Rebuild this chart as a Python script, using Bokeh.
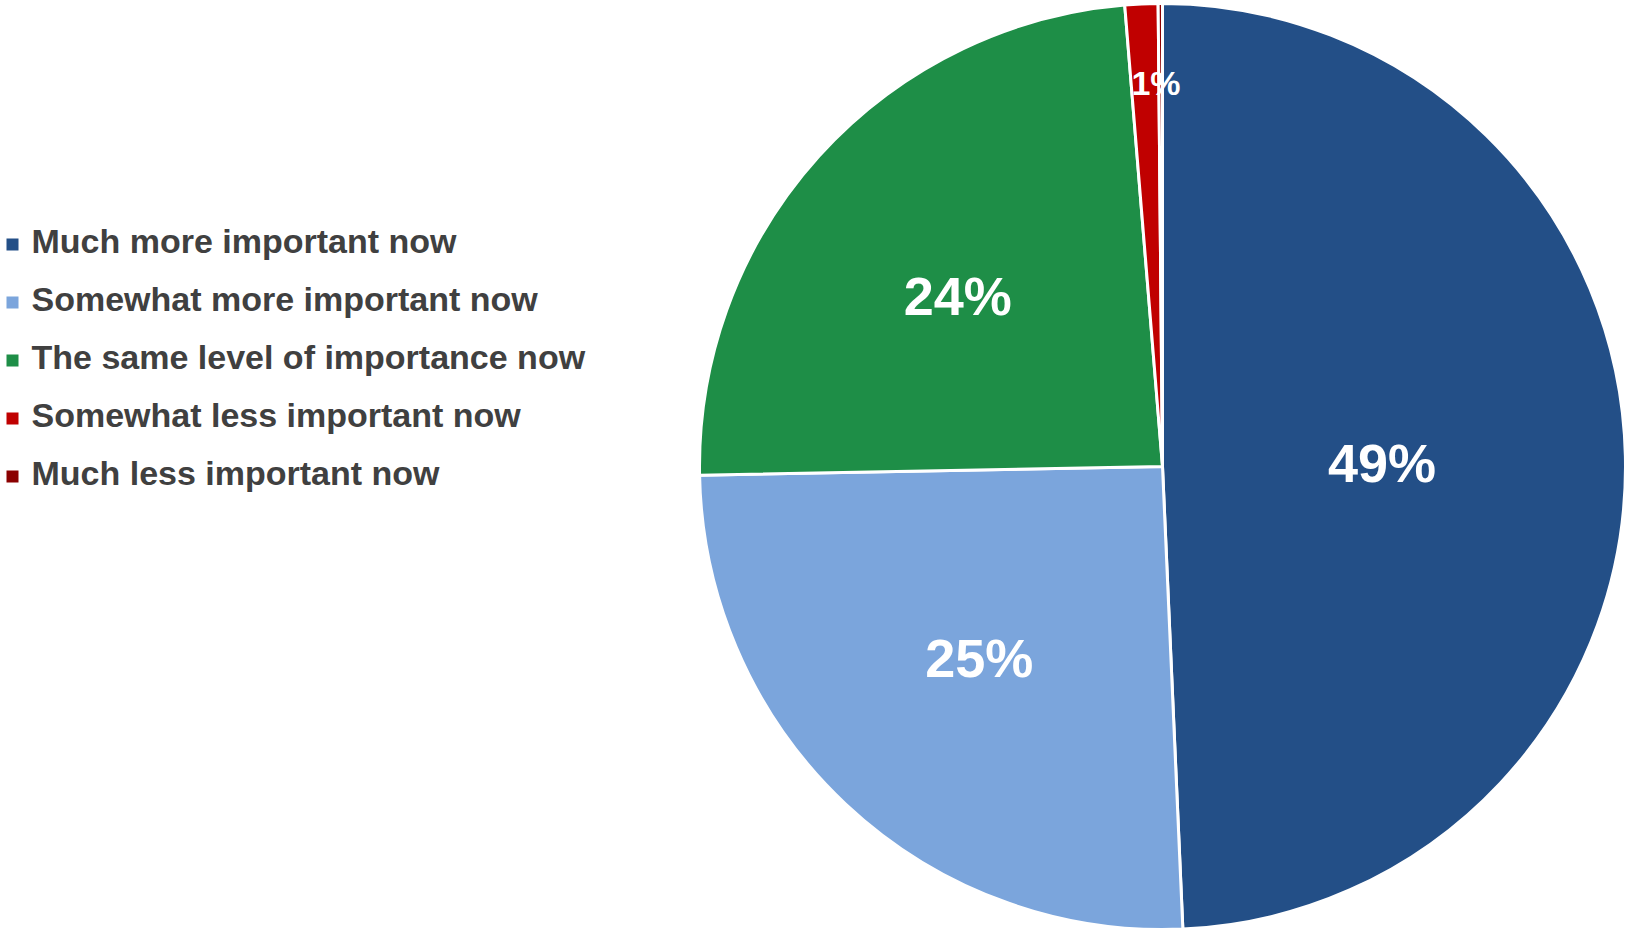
import numpy as np
from bokeh.plotting import figure
from bokeh.models import Range1d, ColumnDataSource
from bokeh.core.properties import value
from bokeh.embed import file_html
from bokeh.resources import INLINE

categories = ["Much more important now", "Somewhat more important now",
              "The same level of importance now", "Somewhat less important now",
              "Much less important now"]
values = [49.3, 25.4, 24.0, 1.15, 0.15]
labels = ["49%", "25%", "24%", "1%", ""]
colors = ["#234F87", "#7BA5DC", "#1E8E47", "#C00000", "#8B0000"]
label_radius = [0.47, 0.575, 0.567, 0.83, 0.9]
label_dx = [2, -1, -10, 11, 0]
label_dy = [1, -3, 6, 0, 0]

W, H = 1626, 931
p = figure(width=W, height=H, output_backend="svg", toolbar_location=None,
           x_range=Range1d(0, W), y_range=Range1d(0, H), min_border=0)
p.axis.visible = False
p.grid.visible = False
p.outline_line_color = None

def fx(px): return px
def fy(py): return H - py

cx, cy, R = fx(1162), fy(466), 463
vals = np.array(values)
frac = vals / vals.sum()
cum = np.concatenate([[0], np.cumsum(frac)]) * 2 * np.pi
start = np.pi / 2 - cum[:-1]
end = np.pi / 2 - cum[1:]
src = ColumnDataSource(dict(start=start, end=end, color=colors))
p.wedge(x=cx, y=cy, radius=R, start_angle="start", end_angle="end", direction="clock",
        fill_color="color", line_color="white", line_width=3, source=src)

mid = (cum[:-1] + cum[1:]) / 2
lr = np.array(label_radius) * R
lx = cx + lr * np.sin(mid)
ly = cy + lr * np.cos(mid)
sizes = ["54px", "54px", "54px", "34px", "34px"]
lsrc = ColumnDataSource(dict(x=lx, y=ly, text=labels, size=sizes, dx=label_dx, dy=label_dy))
p.text(x="x", y="y", text="text", x_offset="dx", y_offset="dy", text_font_size="size",
       text_color="white", text_font=value("Liberation Sans"), text_font_style="bold",
       text_align="center", text_baseline="middle", source=lsrc)

# legend
ys = [244 + 58 * i for i in range(len(categories))]
p.rect(x=[fx(12)] * 5, y=[fy(v) for v in ys], width=12, height=12, fill_color=colors, line_color=None)
p.text(x=[fx(31)] * 5, y=[fy(v) + 4 for v in ys], text=categories, text_color="#404040",
       text_font=value("Liberation Sans"), text_font_style="bold", text_font_size="34px",
       text_align="left", text_baseline="middle")

open("out.html", "w").write(file_html(p, INLINE))
